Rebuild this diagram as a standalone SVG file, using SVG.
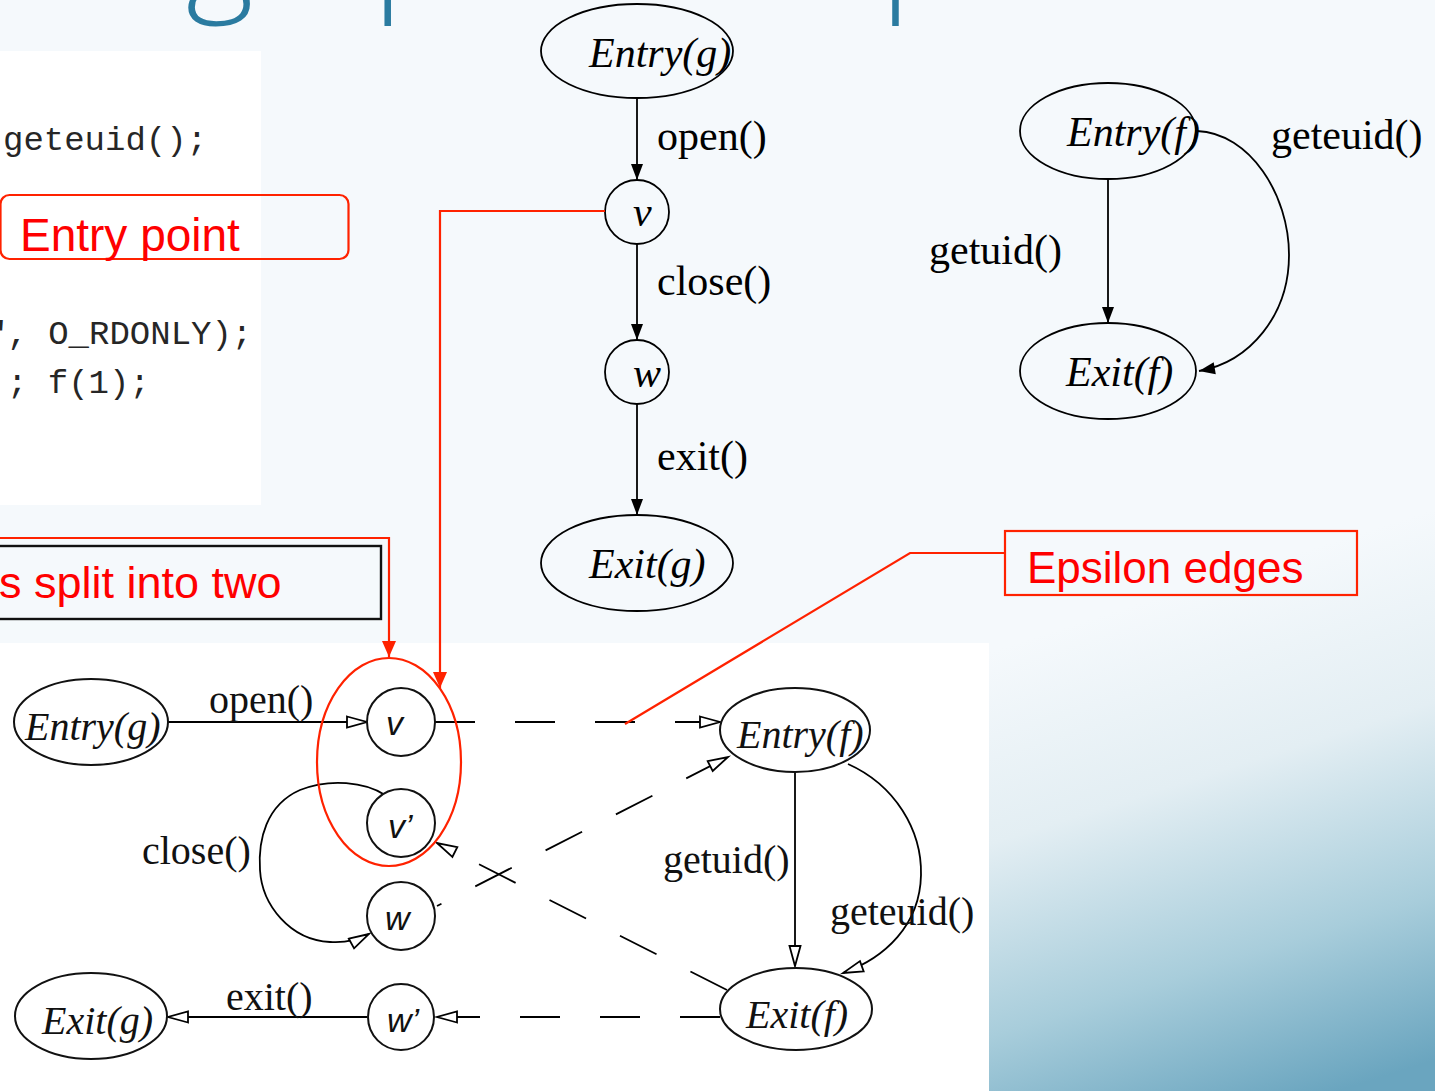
<svg xmlns="http://www.w3.org/2000/svg" width="1435" height="1091" viewBox="0 0 1435 1091">
<defs>
<linearGradient id="bg" gradientUnits="userSpaceOnUse" x1="1150" y1="600" x2="1310" y2="1100">
<stop offset="0" stop-color="#f5f9fc"/>
<stop offset="0.35" stop-color="#e3eef3"/>
<stop offset="0.7" stop-color="#a8cddb"/>
<stop offset="1" stop-color="#6aa5bf"/>
</linearGradient>
<marker id="af" markerUnits="userSpaceOnUse" markerWidth="18" markerHeight="14" refX="16" refY="6" orient="auto" overflow="visible">
<path d="M0,0 L16,6 L0,12 z" fill="#000"/>
</marker>
<marker id="ah" markerUnits="userSpaceOnUse" markerWidth="24" markerHeight="16" refX="21" refY="6" orient="auto" overflow="visible">
<path d="M1,0.5 L21,6 L1,11.5 z" fill="#fff" stroke="#000" stroke-width="1.8"/>
</marker>
<marker id="ar" markerUnits="userSpaceOnUse" markerWidth="18" markerHeight="16" refX="16" refY="7" orient="auto" overflow="visible">
<path d="M0,0 L16,7 L0,14 z" fill="#ff2200"/>
</marker>
</defs>
<style>
.n{fill:none;stroke:#000;stroke-width:1.8}
.nb{fill:#fff;stroke:#111;stroke-width:2}
.e{fill:none;stroke:#000;stroke-width:1.8}
.ef{marker-end:url(#af)}
.eh{marker-end:url(#ah)}
.d{stroke-dasharray:40 40}
.lb{font-family:"Liberation Serif","Times New Roman",serif;font-size:42px;fill:#000}
.lb2{font-family:"Liberation Serif","Times New Roman",serif;font-size:40px;fill:#111}
.it{font-style:italic}
.sv{font-family:"Liberation Sans",Arial,sans-serif;font-style:italic;font-size:34px;fill:#111}
.code{font-family:"Liberation Mono","Courier New",monospace;font-size:34px;fill:#262626}
.rt{font-family:"Liberation Sans",Arial,sans-serif;fill:#ff0000}
.rl{fill:none;stroke:#ff2200;stroke-width:2.2}
</style>
<rect x="0" y="0" width="1435" height="1091" fill="url(#bg)"/>
<text x="-56" y="-4" font-family="'Open Sans',sans-serif" font-weight="300" font-size="130" fill="#2a7ba0">Call graph example</text>
<rect x="0" y="51" width="261" height="454" fill="#fff"/>
<rect x="0" y="643" width="989" height="448" fill="#fff"/>

<g id="code">
<text class="code" x="3" y="150">geteuid();</text>
<text class="code" x="-13" y="344">", O_RDONLY);</text>
<text class="code" x="7" y="393">; f(1);</text>
</g>

<g id="connectors">
<line class="e ef" x1="637" y1="98" x2="637" y2="180"/>
<line class="e ef" x1="637" y1="244" x2="637" y2="340"/>
<line class="e ef" x1="637" y1="404" x2="637" y2="515"/>
<line class="e ef" x1="1108" y1="179" x2="1108" y2="323"/>
<path class="e ef" d="M1197,131 C1250,133 1289,195 1289,255 C1289,315 1250,362 1199,371"/>
<line class="e eh" x1="168" y1="722" x2="367" y2="722"/>
<path class="e eh" d="M385,795 C365,782 330,778 300,790 C266,805 258,840 260,870 C262,905 290,940 330,942 C345,943 358,940 369,934"/>
<line class="e eh" x1="367" y1="1017" x2="168" y2="1017"/>
<line class="e eh" x1="795" y1="772" x2="795" y2="966"/>
<path class="e eh" d="M848,764 C895,785 922,830 921,875 C920,925 885,958 843,973"/>
<line class="e d eh" x1="435" y1="722" x2="720" y2="722"/>
<line class="e eh" x1="437" y1="906" x2="728" y2="757" stroke-dasharray="41 38" stroke-dashoffset="36"/>
<line class="e eh" x1="727" y1="990" x2="437" y2="843" stroke-dasharray="41 38"/>
<line class="e d eh" x1="720" y1="1017" x2="437" y2="1017"/>
<text class="lb" x="657" y="150">open()</text>
<text class="lb" x="657" y="295">close()</text>
<text class="lb" x="657" y="470">exit()</text>
<text class="lb" x="929" y="264">getuid()</text>
<text class="lb" x="1271" y="149">geteuid()</text>
<text class="lb2" x="209" y="713">open()</text>
<text class="lb2" x="142" y="864">close()</text>
<text class="lb2" x="226" y="1010">exit()</text>
<text class="lb2" x="663" y="873">getuid()</text>
<text class="lb2" x="830" y="925">geteuid()</text>
</g>

<g id="entry-g">
<ellipse class="n" cx="637" cy="51" rx="96" ry="47"/>
<text class="lb it" x="589" y="67">Entry(g)</text>
</g>
<g id="v">
<circle class="n" cx="637" cy="212" r="32"/>
<text class="lb it" x="633" y="226">v</text>
</g>
<g id="w">
<circle class="n" cx="637" cy="372" r="32"/>
<text class="lb it" x="633" y="387">w</text>
</g>
<g id="exit-g">
<ellipse class="n" cx="637" cy="563" rx="96" ry="48"/>
<text class="lb it" x="589" y="578">Exit(g)</text>
</g>
<g id="entry-f">
<ellipse class="n" cx="1108" cy="131" rx="88" ry="48"/>
<text class="lb it" x="1067" y="146">Entry(f)</text>
</g>
<g id="exit-f">
<ellipse class="n" cx="1108" cy="371" rx="88" ry="48"/>
<text class="lb it" x="1066" y="386">Exit(f)</text>
</g>

<g id="b-entry-g">
<ellipse class="nb" cx="91" cy="722" rx="77" ry="43"/>
<text class="lb2 it" x="25" y="740" font-size="41">Entry(g)</text>
</g>
<g id="b-v">
<circle class="nb" cx="401" cy="722" r="34"/>
<text class="sv" x="386" y="735">v</text>
</g>
<g id="b-v2">
<circle class="nb" cx="401" cy="823" r="34"/>
<text class="sv" x="388" y="838">v’</text>
</g>
<g id="b-w">
<circle class="nb" cx="401" cy="916" r="34"/>
<text class="sv" x="385" y="930">w</text>
</g>
<g id="b-w2">
<circle class="nb" cx="401" cy="1017" r="33"/>
<text class="sv" x="387" y="1032">w’</text>
</g>
<g id="b-exit-g">
<ellipse class="nb" cx="91" cy="1016" rx="76" ry="43"/>
<text class="lb2 it" x="42" y="1034">Exit(g)</text>
</g>
<g id="b-entry-f">
<ellipse class="nb" cx="795" cy="730" rx="75" ry="42"/>
<text class="lb2 it" x="737" y="748" font-size="39">Entry(f)</text>
</g>
<g id="b-exit-f">
<ellipse class="nb" cx="796" cy="1009" rx="76" ry="41"/>
<text class="lb2 it" x="746" y="1028">Exit(f)</text>
</g>

<g id="callout-entry">
<rect class="rl" x="0.5" y="195" width="348" height="64" rx="9"/>
<text class="rt" x="20" y="251" font-size="46">Entry point</text>
<path class="rl" d="M605,211 H440 V688" marker-end="url(#ar)"/>
</g>
<g id="callout-split">
<rect x="-5" y="546" width="386" height="73" fill="none" stroke="#111" stroke-width="2.4"/>
<text class="rt" x="-1" y="598" font-size="45">s split into two</text>
<path class="rl" d="M0,538 H389 V657" marker-end="url(#ar)"/>
<ellipse class="rl" cx="389" cy="762" rx="72" ry="104"/>
</g>
<g id="callout-epsilon">
<rect class="rl" x="1005" y="531" width="352" height="64"/>
<text class="rt" x="1027" y="583" font-size="44">Epsilon edges</text>
<path class="rl" d="M1005,553 H910 L625,724"/>
</g>
</svg>
